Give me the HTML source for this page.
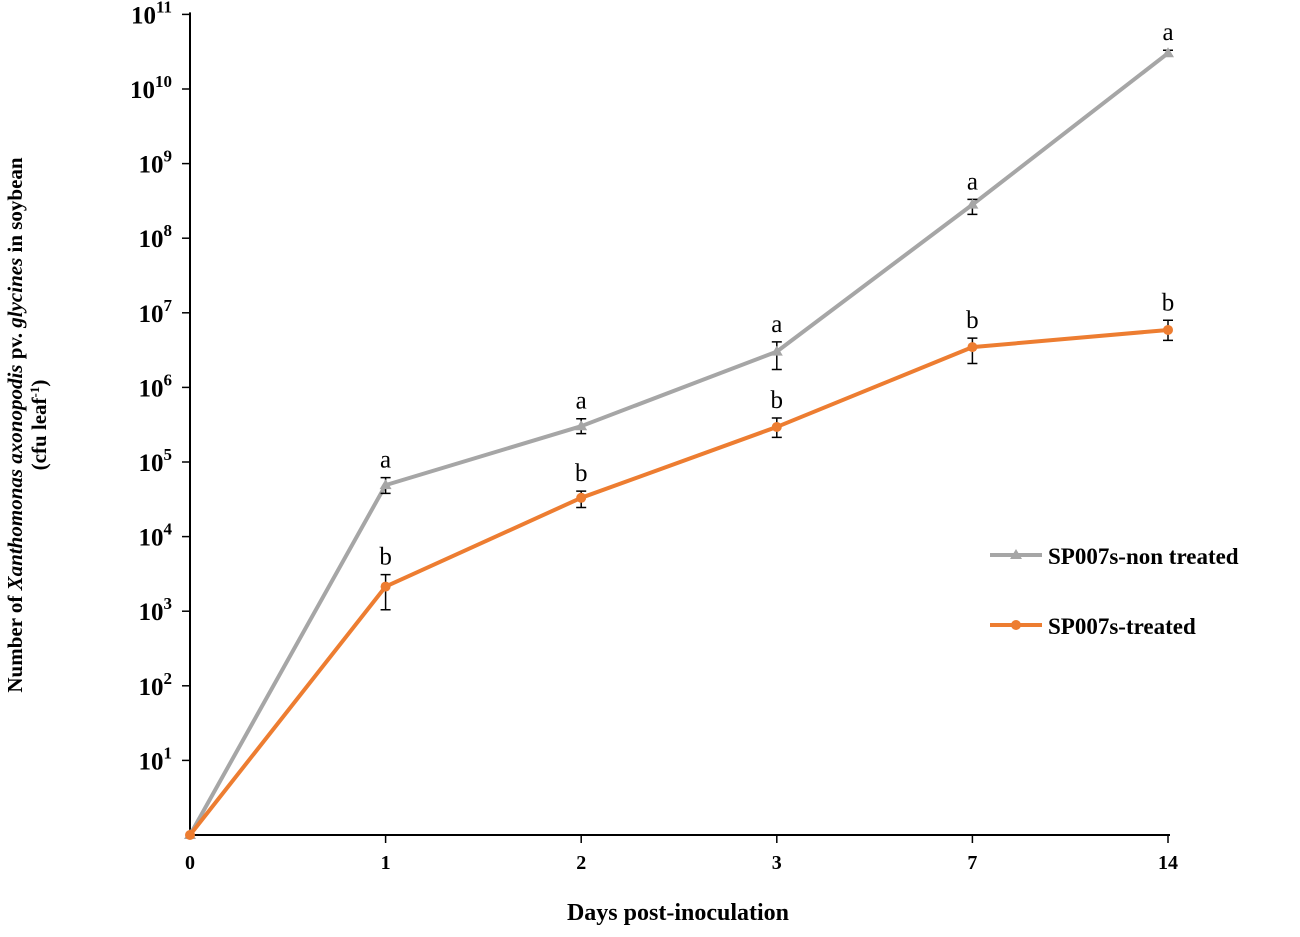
<!DOCTYPE html>
<html><head><meta charset="utf-8"><style>
body{margin:0;background:#fff;}
svg text{font-family:"Liberation Serif",serif;font-weight:bold;fill:#000;}
svg text.letter{font-weight:normal;}
</style></head><body>
<svg id="chart" width="1300" height="932" viewBox="0 0 1300 932" xmlns="http://www.w3.org/2000/svg">
<g id="axes"></g><g id="series"></g>
<text x="678" y="920" text-anchor="middle" font-size="24">Days post-inoculation</text>
<g transform="translate(22,425) rotate(-90)">
<text x="0" y="0" text-anchor="middle" font-size="21">Number of <tspan font-style="italic">Xanthomonas axonopodis</tspan> pv. <tspan font-style="italic">glycines</tspan> in soybean</text>
<text x="0" y="24" text-anchor="middle" font-size="21">(cfu leaf<tspan baseline-shift="super" font-size="13">-1</tspan>)</text>
</g>
<g>
<line x1="990" y1="555" x2="1042" y2="555" stroke="#a6a6a6" stroke-width="4"/>
<polygon points="1016,549 1022,559 1010,559" fill="#a6a6a6"/>
<text x="1048" y="564" font-size="23">SP007s-non treated</text>
<line x1="990" y1="625" x2="1042" y2="625" stroke="#ed7d31" stroke-width="4"/>
<circle cx="1016" cy="625" r="5" fill="#ed7d31"/>
<text x="1048" y="634" font-size="23">SP007s-treated</text>
</g>
</svg>
<script>
const categories=["0","1","2","3","7","14"];
const nonTreated=[0,4.69,5.48,6.48,8.45,10.48];
const nonTreatedHi=[0,4.79,5.58,6.61,8.52,10.52];
const nonTreatedLo=[0,4.58,5.38,6.24,8.32,10.44];
const treated=[0,3.33,4.52,5.47,6.54,6.77];
const treatedHi=[0,3.49,4.61,5.59,6.66,6.90];
const treatedLo=[0,3.02,4.39,5.33,6.32,6.63];
const nonTreatedLetters=["","a","a","a","a","a"];
const treatedLetters=["","b","b","b","b","b"];
const yTicks=[1,2,3,4,5,6,7,8,9,10,11];
const NS="http://www.w3.org/2000/svg";
const x0=190,dx=195.6,y0=835,dy=74.6;
const xs=i=>x0+i*dx, ys=v=>y0-v*dy;
function mk(t,a,p){const e=document.createElementNS(NS,t);for(const k in a)e.setAttribute(k,a[k]);p.appendChild(e);return e;}
const ax=document.getElementById('axes'),sr=document.getElementById('series');
let e=mk('line',{x1:x0,y1:y0,x2:x0,y2:ys(11)-2,stroke:'#000','stroke-width':2},ax);

e=mk('line',{x1:x0,y1:y0,x2:xs(5)+2,y2:y0,stroke:'#000','stroke-width':2},ax);

yTicks.forEach(v=>{
 mk('line',{x1:x0-8,y1:ys(v),x2:x0,y2:ys(v),stroke:'#000','stroke-width':1.5},ax);
 const t=mk('text',{x:x0-18,y:ys(v)+9,'text-anchor':'end','font-size':25},ax);
 
 
 t.textContent='10';const s=mk('tspan',{dy:-11,'font-size':17},t);s.textContent=v;
});
categories.forEach((c,i)=>{
 if(i>0)mk('line',{x1:xs(i),y1:y0,x2:xs(i),y2:y0+8,stroke:'#000','stroke-width':1.5},ax);
 const t=mk('text',{x:xs(i),y:y0+34,'text-anchor':'middle','font-size':20},ax);
 
 
 t.textContent=c;
});
function series(vals,hi,lo,letters,color,name,marker){
 const g=mk('g',{},sr);
 
 
 mk('polyline',{points:vals.map((v,i)=>xs(i)+','+ys(v)).join(' '),fill:'none',stroke:color,'stroke-width':4,'stroke-linejoin':'round'},g);
 vals.forEach((v,i)=>{
  const x=xs(i),y=ys(v);
  if(i>0){
   mk('path',{d:`M${x},${ys(hi[i])}V${ys(lo[i])}M${x-5},${ys(hi[i])}H${x+5}M${x-5},${ys(lo[i])}H${x+5}`,stroke:'#000','stroke-width':1.5,fill:'none'},g);
  }
  let m;
  if(marker==='tri')m=mk('polygon',{points:`${x},${y-6} ${x+6},${y+4} ${x-6},${y+4}`,fill:color},g);
  else m=mk('circle',{cx:x,cy:y,r:5,fill:color},g);
  
  
  if(letters[i]){
   const t=mk('text',{x:x,y:ys(hi[i])-10,'text-anchor':'middle','font-size':25,'class':'letter'},g);
   
   
   t.textContent=letters[i];
  }
 });
}
series(nonTreated,nonTreatedHi,nonTreatedLo,nonTreatedLetters,'#a6a6a6','series-non-treated','tri');
series(treated,treatedHi,treatedLo,treatedLetters,'#ed7d31','series-treated','circ');
</script>
</body></html>
